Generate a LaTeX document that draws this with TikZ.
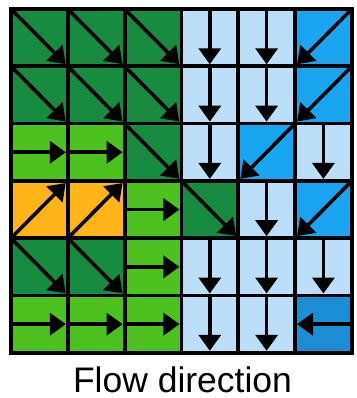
\documentclass[tikz,border=0pt]{standalone}
\usepackage{fontspec}
\setmainfont{Liberation Sans}
\usetikzlibrary{arrows.meta}
\definecolor{dg}{HTML}{178C41}
\definecolor{lg}{HTML}{4DC21F}
\definecolor{org}{HTML}{FFB418}
\definecolor{lb}{HTML}{BCDFF9}
\definecolor{bl}{HTML}{18A6F0}
\definecolor{mb}{HTML}{1C8ED6}
\begin{document}
\begin{tikzpicture}[x=1pt,y=-1pt,
  cellbox/.style={draw=black, line width=3.8pt, minimum width=56.8pt, minimum height=57.3pt, inner sep=0pt, outer sep=0pt, anchor=north west},
  flow/.style={line width=3.6pt, -{Triangle[width=22pt,length=16pt]}},
  diag/.style={flow, shorten >=3pt},
  straight/.style={flow, shorten >=2pt}]
\useasboundingbox (0,0) rectangle (356,398);
\fill[white] (0,0) rectangle (356,398);
% cells
\foreach \r/\c in {0/0,0/1,0/2,1/0,1/1,1/2,2/2,3/3,4/0,4/1}
  \node[cellbox, fill=dg] (c\r\c) at ({11+\c*56.8},{9+\r*57.3}) {};
\foreach \r/\c in {0/3,0/4,1/3,1/4,2/3,2/5,3/4,4/3,4/4,4/5,5/3,5/4}
  \node[cellbox, fill=lb] (c\r\c) at ({11+\c*56.8},{9+\r*57.3}) {};
\foreach \r/\c in {0/5,1/5,2/4,3/5}
  \node[cellbox, fill=bl] (c\r\c) at ({11+\c*56.8},{9+\r*57.3}) {};
\foreach \r/\c in {2/0,2/1,3/2,4/2,5/0,5/1,5/2}
  \node[cellbox, fill=lg] (c\r\c) at ({11+\c*56.8},{9+\r*57.3}) {};
\foreach \r/\c in {3/0,3/1}
  \node[cellbox, fill=org] (c\r\c) at ({11+\c*56.8},{9+\r*57.3}) {};
\node[cellbox, fill=mb] (c55) at ({11+5*56.8},{9+5*57.3}) {};
% arrows
\foreach \n in {00,01,02,10,11,12,22,33,40,41}
  \draw[diag] (c\n.north west) -- (c\n.south east);
\foreach \n in {03,04,13,14,23,25,34,43,44,45,53,54}
  \draw[straight] (c\n.north) -- (c\n.south);
\foreach \n in {05,15,24,35}
  \draw[diag] (c\n.north east) -- (c\n.south west);
\foreach \n in {20,21,32,42,50,51,52}
  \draw[straight] (c\n.west) -- (c\n.east);
\foreach \n in {30,31}
  \draw[diag] (c\n.south west) -- (c\n.north east);
\draw[straight] (c55.east) -- (c55.west);
% caption
\node[anchor=base, inner sep=0pt, font=\fontsize{35.5}{40}\selectfont] (title) at (182.5,392) {Flow direction};
\end{tikzpicture}
\end{document}
